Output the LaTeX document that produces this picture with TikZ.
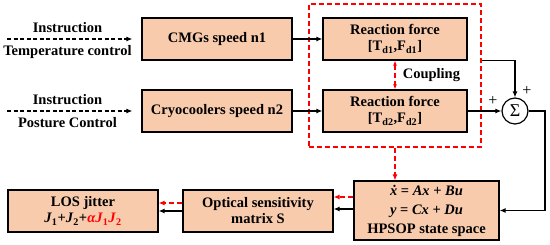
\documentclass[tikz,border=0pt]{standalone}
\usepackage{fontspec}
\setmainfont{Liberation Serif}
\usetikzlibrary{positioning,arrows.meta}
\definecolor{Ink}{HTML}{000000}
\definecolor{Peach}{HTML}{F8CBAD}
\definecolor{Alert}{HTML}{FF0000}

\begin{document}
\begin{tikzpicture}[
  x=1pt,
  y=-1pt,
  every node/.style={
    font=\fontsize{14.5}{16}\selectfont\bfseries,
    align=center,
    inner sep=1pt
  },
  blk/.style={
    draw=Ink,
    fill=Peach,
    line width=1.2pt,
    minimum width=150pt,
    minimum height=42pt
  },
  flow/.style={
    -{Latex[length=6pt,width=5pt]},
    Ink,
    line width=1.3pt
  },
  redflow/.style={
    flow,
    Alert,
    line width=1.6pt,
    dash pattern=on 5pt off 3pt
  }
]

\useasboundingbox (0,0) rectangle (550,245);

% coupled group
\node[
  draw=Alert,
  dash pattern=on 5pt off 3pt,
  line width=1.5pt,
  minimum width=172pt,
  minimum height=143pt
] (grp) at (395,75.5) {};

\node[blk] (cmg) at (217,39) {CMGs speed n1};
\node[blk] (cryo) at (217,111) {Cryocoolers speed n2};

\node[blk, minimum width=144pt] (rf1) at (395,39)
{Reaction force\\{}[T\textsubscript{d1},F\textsubscript{d1}]};
\node[blk, minimum width=144pt] (rf2) at (395,111)
{Reaction force\\{}[T\textsubscript{d2},F\textsubscript{d2}]};

\node[
  circle,
  draw=Ink,
  line width=1.2pt,
  minimum size=26pt,
  inner sep=0pt,
  font=\fontsize{18}{18}\selectfont
] (sum) at (515,111) {Σ};

\node[font=\fontsize{16}{16}\selectfont] (plus1) at (527,91) {+};
\node[font=\fontsize{16}{16}\selectfont] (plus2) at (493,101) {+};

\node[
  blk,
  minimum width=145pt,
  minimum height=59pt,
  font=\fontsize{14.5}{19}\selectfont\bfseries
] (ss) at (426.5,210.5)
{\textit{\.{x}} = \textit{Ax} + \textit{Bu}\\
 \textit{y} = \textit{Cx} + \textit{Du}\\
 HPSOP state space};

\node[blk] (opt) at (258,211) {Optical sensitivity\\matrix S};

\node[blk] (los) at (83,211)
{LOS jitter\\
 \textit{J}\textsubscript{1}+\textit{J}\textsubscript{2}+\textcolor{Alert}{\textit{αJ}\textsubscript{1}\textit{J}\textsubscript{2}}};

% instructions
\coordinate (in1) at (7,39);
\coordinate (in2) at (7,111);

\draw[flow, dash pattern=on 4pt off 2.5pt, shorten >=9pt] (in1) -- (cmg.west)
  node[pos=.45, above=5pt] {Instruction}
  node[pos=.45, below=5pt] {Temperature control};
\draw[flow, dash pattern=on 4pt off 2.5pt, shorten >=9pt] (in2) -- (cryo.west)
  node[pos=.45, above=5pt] {Instruction}
  node[pos=.45, below=5pt] {Posture Control};

\foreach \a/\b in {cmg/rf1,cryo/rf2}{
  \draw[flow] (\a) -- (\b);
}

\draw[redflow, {Latex[length=5pt,width=4pt]}-{Latex[length=5pt,width=4pt]}]
  (rf1.south) -- (rf2.north)
  node[midway, right=6pt, text=Ink] {Coupling};

\draw[flow] (grp.east |- rf1.south) -| (sum.north);
\draw[flow] (rf2) -- (sum);

\coordinate (bend) at (545,210.5);
\draw[flow] (sum.east) -| (bend) -- (ss.east);

\draw[redflow] (grp.south) -- (grp.south |- ss.north);

\draw[redflow] ([yshift=13.5pt]ss.west) -- ([yshift=13.5pt]ss.west -| opt.east);
\draw[flow] ([yshift=1.5pt]ss.west) -- ([yshift=1.5pt]ss.west -| opt.east);

\draw[redflow] ([yshift=8pt]opt.west) -- ([yshift=8pt]opt.west -| los.east);
\draw[flow] (opt) -- (los);

\end{tikzpicture}
\end{document}
